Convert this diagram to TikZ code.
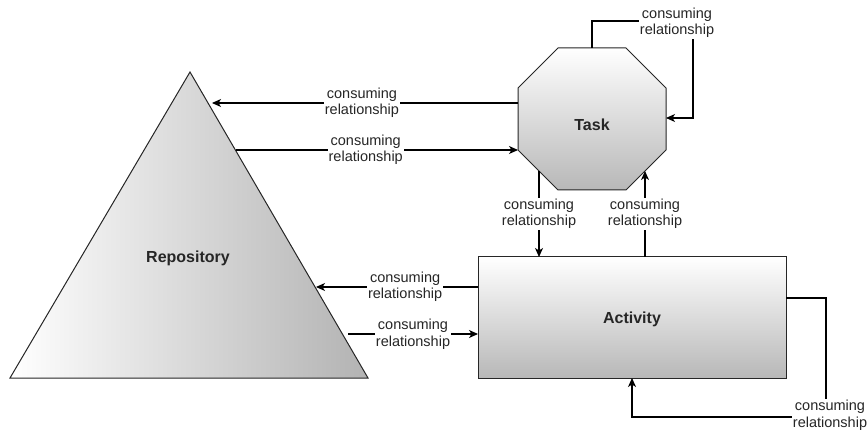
\documentclass[tikz,border=0pt]{standalone}
\usepackage{fontspec}
\setmainfont{Liberation Sans}
\usetikzlibrary{arrows.meta}
\begin{document}
\begin{tikzpicture}[x=1pt,y=-1pt,
  shapeline/.style={draw=black!85, line width=1pt},
  link/.style={draw=black, line width=1.1pt, -{Stealth[length=9pt,width=8pt,inset=2.5pt]}},
  tag/.style={fill=white, inner sep=1pt, align=center, text=black!85, font=\fontsize{14.5}{16.5}\selectfont},
  title/.style={font=\fontsize{16}{18}\selectfont\bfseries, text=black!85}]
\useasboundingbox (0,0) rectangle (867,430);

% shapes
\path[shapeline, left color=white, right color=black!30]
  (190,72) -- (368,378) -- (10,378) -- cycle;
\path[shapeline, top color=white, bottom color=black!28]
  (558,48) -- (626,48) -- (666,88) -- (666,150) -- (626,190)
  -- (558,190) -- (518,150) -- (518,88) -- cycle;
\path[shapeline, top color=white, bottom color=black!28]
  (478,257) rectangle (786,378);

\node[title] (repo) at (188,258) {Repository};
\node[title] (task) at (592,125) {Task};
\node[title] (act)  at (632,319) {Activity};

% attachment points
\coordinate (tL1) at (518,103);
\coordinate (rR1) at (212,103);
\coordinate (rR2) at (236,150);
\coordinate (tL2) at (518,150);
\coordinate (aL1) at (478,287);
\coordinate (rR3) at (316,287);
\coordinate (rR4) at (348,334);
\coordinate (aL2) at (478,334);
\coordinate (tB1) at (539,171);
\coordinate (aT1) at (539,257);
\coordinate (aT2) at (645,257);
\coordinate (tB2) at (645,171);
\coordinate (tTop) at (592,48);
\coordinate (tLoop) at (693,21);
\coordinate (tR) at (666,118);
\coordinate (aR) at (786,298);
\coordinate (aLoop) at (826,417);
\coordinate (aB) at (632,378);

% connectors
\draw[link] (tL1) -- node[tag, pos=0.51] {consuming\\relationship} (rR1);
\draw[link] (rR2) -- node[tag, pos=0.46] {consuming\\relationship} (tL2);
\draw[link] (aL1) -- node[tag, pos=0.45] {consuming\\relationship} (rR3);
\draw[link] (rR4) -- node[tag] {consuming\\relationship} (aL2);
\draw[link] (tB1) -- node[tag] {consuming\\relationship} (aT1);
\draw[link] (aT2) -- node[tag] {consuming\\relationship} (tB2);
\draw[link] (tTop) |- (tLoop) |- (tR);
\draw[link] (aR) -| (aLoop) -| (aB);
\node[tag] (loopT) at (677,23) {consuming\\relationship};
\node[tag] (loopA) at (830,415) {consuming\\relationship};
\end{tikzpicture}
\end{document}
